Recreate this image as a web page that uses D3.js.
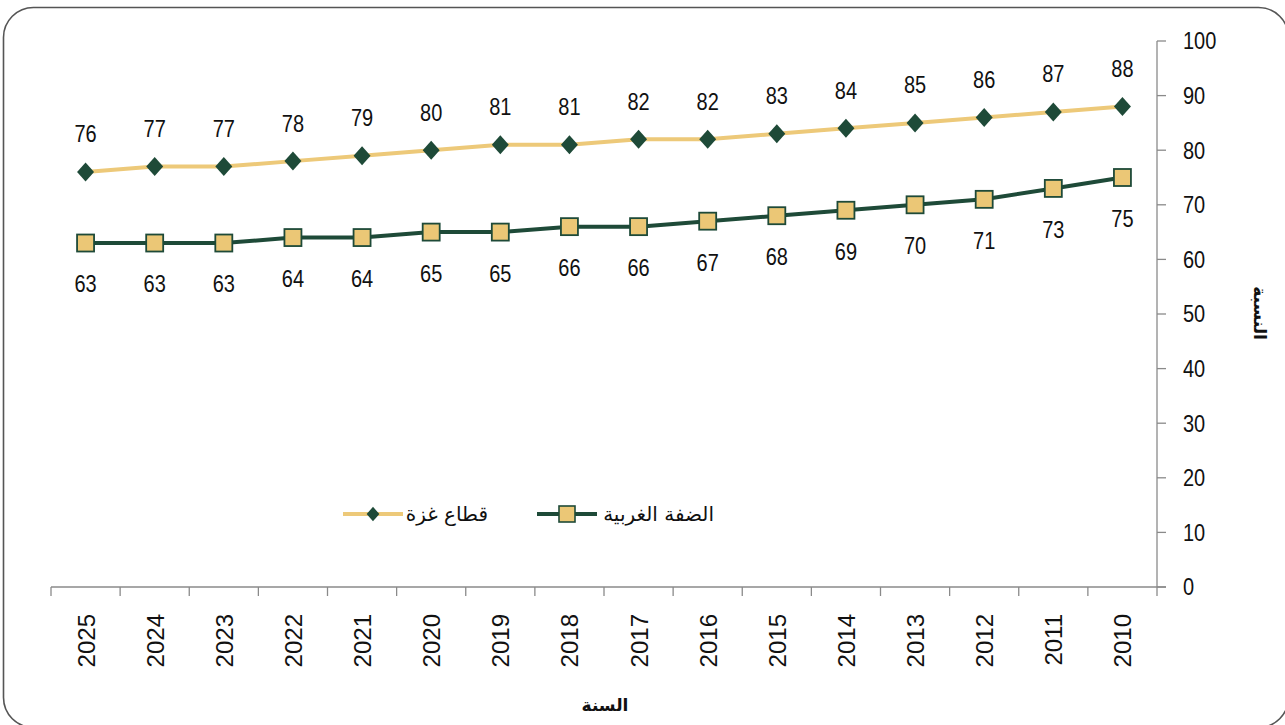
<!DOCTYPE html>
<html><head><meta charset="utf-8">
<script src="https://cdn.jsdelivr.net/npm/d3@7"></script>
<style>
html,body{margin:0;padding:0;background:#fff;}
svg{display:block;font-family:"Liberation Sans",Arial,sans-serif;}
</style></head>
<body>
<svg id="chart" width="1285" height="725"></svg>
<script>
// Years, drawn right-to-left along the x axis
const years = ["2025","2024","2023","2022","2021","2020","2019","2018","2017","2016","2015","2014","2013","2012","2011","2010"];
// Gaza Strip percentages
const gaza = [76,77,77,78,79,80,81,81,82,82,83,84,85,86,87,88];
// West Bank percentages
const westBank = [63,63,63,64,64,65,65,66,66,67,68,69,70,71,73,75];
const yTicks = [0,10,20,30,40,50,60,70,80,90,100];
const seriesNames = ["قطاع غزة","الضفة الغربية"];

const svg = d3.select("#chart");
const plotL = 51, plotR = 1157, plotT = 41, plotB = 587;
const gold = "#EDC979", green = "#1E4A38", squareFill = "#EBC776";
const axisCol = "#8a8a8a";
const stretch = "scale(1,1.2)";

// Rounded frame
svg.append("rect").attr("x",3.5).attr("y",7.5).attr("width",1285).attr("height",720)
  .attr("rx",30).attr("ry",30).attr("fill","none").attr("stroke","#555").attr("stroke-width",1.6);

const x = d3.scaleBand().domain(years).range([plotL,plotR]);
const y = d3.scaleLinear().domain([0,100]).range([plotB,plotT]);
const cx = d => x(d)+x.bandwidth()/2;

// X axis
const gx = svg.append("g").attr("transform",`translate(0,${plotB})`);
gx.append("line").attr("x1",plotL).attr("x2",plotR+9).attr("stroke",axisCol).attr("stroke-width",1.3);
const bounds = years.map(d=>x(d)).concat([plotR]);
gx.selectAll("line.b").data(bounds).join("line").attr("class","b")
  .attr("x1",d=>d).attr("x2",d=>d).attr("y1",0).attr("y2",9)
  .attr("stroke",axisCol).attr("stroke-width",1.3);
gx.selectAll("text.yr").data(years).join("text").attr("class","yr")
  .attr("transform",d=>`translate(${cx(d)+9},27) rotate(-90)`)
  .attr("text-anchor","end").attr("font-size",24).attr("fill","#111").text(d=>d);

// Y axis on the right
const gy = svg.append("g").attr("transform",`translate(${plotR},0)`);
gy.append("line").attr("y1",plotT).attr("y2",plotB).attr("stroke",axisCol).attr("stroke-width",1.3);
gy.selectAll("line.t").data(yTicks).join("line").attr("class","t")
  .attr("x1",0).attr("x2",9).attr("y1",d=>y(d)).attr("y2",d=>y(d))
  .attr("stroke",axisCol).attr("stroke-width",1.3);
gy.selectAll("text.t").data(yTicks).join("text").attr("class","t")
  .attr("transform",d=>`translate(26,${y(d)}) ${stretch}`).attr("dy","0.35em")
  .attr("font-size",20).attr("fill","#111").text(d=>d);

// Axis titles
svg.append("text").attr("transform","translate(1254,313) rotate(90)")
  .attr("text-anchor","middle").attr("font-size",17).attr("font-weight","bold")
  .attr("font-family","'DejaVu Sans',sans-serif").attr("fill","#111").text("النسبة");
svg.append("text").attr("x",605).attr("y",711)
  .attr("text-anchor","middle").attr("font-size",17).attr("font-weight","bold")
  .attr("font-family","'DejaVu Sans',sans-serif").attr("fill","#111").text("السنة");

const line = d3.line().x(d=>cx(d.year)).y(d=>y(d.v));
const gazaData = years.map((yr,i)=>({year:yr,v:gaza[i]}));
const wbData = years.map((yr,i)=>({year:yr,v:westBank[i]}));

// Diamond marker: a square symbol turned 45 degrees, slightly taller than wide
const diamond = d3.symbol().type(d3.symbolSquare).size(144);

// Gaza line, diamonds, labels above
svg.append("path").datum(gazaData).attr("d",line).attr("fill","none")
  .attr("stroke",gold).attr("stroke-width",4);
svg.selectAll("path.gd").data(gazaData).join("path").attr("class","gd")
  .attr("d",diamond).attr("transform",d=>`translate(${cx(d.year)},${y(d.v)}) scale(1,1.12) rotate(45)`)
  .attr("fill",green);
svg.selectAll("text.gl").data(gazaData).join("text").attr("class","gl")
  .attr("transform",d=>`translate(${cx(d.year)},${y(d.v)-38}) ${stretch}`).attr("dy","0.35em")
  .attr("text-anchor","middle").attr("font-size",20).attr("fill","#111").text(d=>d.v);

// West Bank line, squares, labels below
svg.append("path").datum(wbData).attr("d",line).attr("fill","none")
  .attr("stroke",green).attr("stroke-width",4);
const sq = 17;
svg.selectAll("rect.wb").data(wbData).join("rect").attr("class","wb")
  .attr("x",d=>cx(d.year)-sq/2).attr("y",d=>y(d.v)-sq/2).attr("width",sq).attr("height",sq)
  .attr("fill",squareFill).attr("stroke",green).attr("stroke-width",1.8);
svg.selectAll("text.wl").data(wbData).join("text").attr("class","wl")
  .attr("transform",d=>`translate(${cx(d.year)},${y(d.v)+41}) ${stretch}`).attr("dy","0.35em")
  .attr("text-anchor","middle").attr("font-size",20).attr("fill","#111").text(d=>d.v);

// Legend
const lg = svg.append("g");
lg.append("line").attr("x1",343).attr("x2",403).attr("y1",514).attr("y2",514)
  .attr("stroke",gold).attr("stroke-width",4);
lg.append("path").attr("d",d3.symbol().type(d3.symbolSquare).size(81)())
  .attr("transform","translate(373,514) scale(1,1.12) rotate(45)").attr("fill",green);
lg.append("text").attr("x",488).attr("y",514).attr("dy","0.35em").attr("text-anchor","end")
  .attr("font-size",20).attr("font-family","'DejaVu Sans',sans-serif").attr("fill","#111").text(seriesNames[0]);
lg.append("line").attr("x1",537).attr("x2",597).attr("y1",514).attr("y2",514)
  .attr("stroke",green).attr("stroke-width",4);
lg.append("rect").attr("x",567-8).attr("y",514-8).attr("width",16).attr("height",16)
  .attr("fill",squareFill).attr("stroke",green).attr("stroke-width",1.6);
lg.append("text").attr("x",714).attr("y",514).attr("dy","0.35em").attr("text-anchor","end")
  .attr("font-size",20).attr("font-family","'DejaVu Sans',sans-serif").attr("fill","#111").text(seriesNames[1]);
</script>
</body></html>
